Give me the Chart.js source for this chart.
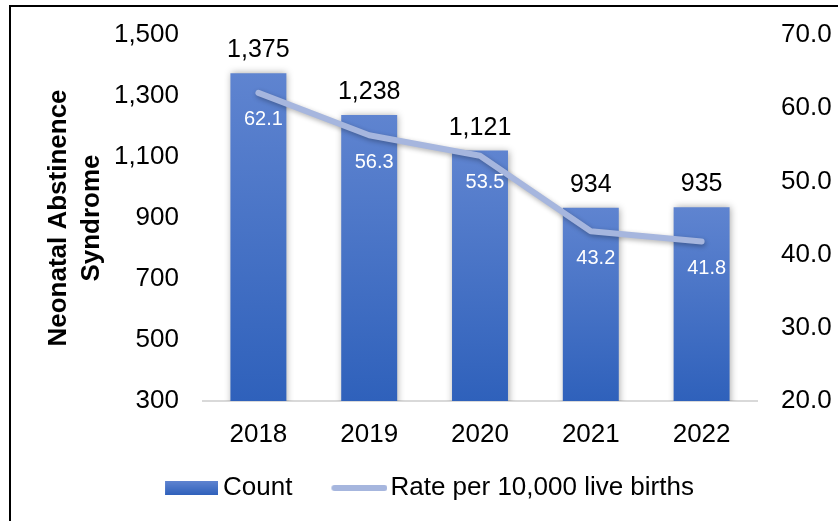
<!DOCTYPE html>
<html>
<head>
<meta charset="utf-8">
<script src="https://cdn.jsdelivr.net/npm/chart.js@4.4.1/dist/chart.umd.min.js"></script>
<style>
  html, body { margin: 0; padding: 0; background: #fff; }
  #wrap { position: relative; width: 838px; height: 521px; overflow: hidden; }
  #c { position: absolute; left: 0; top: 0; }
  #frame { position: absolute; left: 9px; top: 5px; width: 840px; height: 530px;
           border-left: 2px solid #000; border-top: 2px solid #000; pointer-events: none; }
</style>
</head>
<body>
<div id="wrap">
  <canvas id="c" width="838" height="521"></canvas>
  <div id="frame"></div>
</div>
<script>
// ---- data ----
const years = ['2018', '2019', '2020', '2021', '2022'];
const counts = [1375, 1238, 1121, 934, 935];
const rates = [62.1, 56.3, 53.5, 43.2, 41.8];
const countTicks = [300, 500, 700, 900, 1100, 1300, 1500];
const rateTicks = [20, 30, 40, 50, 60, 70];
const countLabel = 'Count';
const rateLabel = 'Rate per 10,000 live births';
const axisTitle = ['Neonatal Abstinence', 'Syndrome'];

// ---- styles ----
const FONT = "'Liberation Sans', Arial, sans-serif";
const BAR_TOP = '#5f84d0';
const BAR_BOT = '#2f61bb';
const BAR_MID = '#4672c6';
const LINE_C = '#a6b6de';
const PSW = 66; // legend symbol slot width

// legend symbols: transparent canvases with the visible swatch right before the text
function boxImage() {
  const c = document.createElement('canvas');
  c.width = 82; c.height = 14;
  const x = c.getContext('2d');
  const g = x.createLinearGradient(0, 0, 0, 14);
  g.addColorStop(0, BAR_TOP); g.addColorStop(1, BAR_BOT);
  x.fillStyle = g; x.fillRect(29, 0, 53, 14);
  return c;
}
function lineImage() {
  const c = document.createElement('canvas');
  c.width = 86; c.height = 8;
  const x = c.getContext('2d');
  x.strokeStyle = LINE_C; x.lineWidth = 6; x.lineCap = 'round';
  x.beginPath(); x.moveTo(33, 4); x.lineTo(83, 4); x.stroke();
  return c;
}
const imgBox = boxImage();
const imgLine = lineImage();

function barGradient(c) {
  const chart = c.chart;
  if (c.type !== 'data' || !chart.chartArea || !chart.scales.y) return BAR_MID;
  const ys = chart.scales.y;
  const top = ys.getPixelForValue(c.parsed ? c.parsed.y : counts[c.dataIndex]);
  const bot = ys.getPixelForValue(ys.min);
  if (!isFinite(top) || !isFinite(bot) || bot <= top) return BAR_MID;
  const g = chart.ctx.createLinearGradient(0, top, 0, bot);
  g.addColorStop(0, BAR_TOP);
  g.addColorStop(1, BAR_BOT);
  return g;
}

const shadowPlugin = {
  id: 'shadow',
  beforeDatasetDraw(chart, args) {
    const ctx = chart.ctx;
    ctx.save();
    if (args.index === 0) {
      ctx.shadowColor = 'rgba(0,0,0,0.35)';
      ctx.shadowBlur = 7;
      ctx.shadowOffsetX = 1;
      ctx.shadowOffsetY = 0;
    } else {
      ctx.shadowColor = 'rgba(0,0,0,0.3)';
      ctx.shadowBlur = 5;
      ctx.shadowOffsetX = 1;
      ctx.shadowOffsetY = 2;
    }
  },
  afterDatasetDraw(chart) { chart.ctx.restore(); }
};

const labelPlugin = {
  id: 'valueLabels',
  afterDatasetsDraw(chart) {
    const ctx = chart.ctx;
    ctx.save();
    ctx.textAlign = 'center';
    ctx.textBaseline = 'alphabetic';
    ctx.fillStyle = '#000';
    ctx.font = '25px ' + FONT;
    chart.getDatasetMeta(0).data.forEach((el, i) => {
      ctx.fillText(counts[i].toLocaleString('en-US'), el.x, el.y - 16);
    });
    ctx.fillStyle = '#fff';
    ctx.font = '20px ' + FONT;
    ctx.textBaseline = 'middle';
    chart.getDatasetMeta(1).data.forEach((pt, i) => {
      ctx.fillText(rates[i].toFixed(1), pt.x + 5, pt.y + 27);
    });
    ctx.restore();
  }
};

function noPad(s) { s.paddingTop = 0; s.paddingBottom = 0; }

new Chart(document.getElementById('c'), {
  data: {
    labels: years,
    datasets: [
      {
        type: 'bar',
        label: countLabel,
        data: counts,
        yAxisID: 'y',
        backgroundColor: barGradient,
        borderWidth: 0,
        categoryPercentage: 0.505,
        barPercentage: 1,
        order: 1
      },
      {
        type: 'line',
        label: rateLabel,
        data: rates,
        yAxisID: 'y1',
        borderColor: LINE_C,
        backgroundColor: LINE_C,
        borderWidth: 6,
        borderCapStyle: 'round',
        borderJoinStyle: 'round',
        pointRadius: 0,
        tension: 0,
        order: 0
      }
    ]
  },
  options: {
    responsive: false,
    animation: false,
    devicePixelRatio: 1,
    layout: { padding: { top: 35, left: 0, right: 0, bottom: 10 } },
    plugins: {
      tooltip: { enabled: false },
      legend: {
        position: 'bottom',
        labels: {
          usePointStyle: true,
          pointStyleWidth: PSW,
          boxHeight: 14,
          padding: 19,
          color: '#000',
          font: { family: FONT, size: 26 },
          generateLabels: () => [
            { text: countLabel, pointStyle: imgBox, rotation: 0, fillStyle: BAR_MID, strokeStyle: BAR_MID, lineWidth: 0, hidden: false, datasetIndex: 0, fontColor: '#000' },
            { text: rateLabel, pointStyle: imgLine, rotation: 0, fillStyle: LINE_C, strokeStyle: LINE_C, lineWidth: 0, hidden: false, datasetIndex: 1, fontColor: '#000' }
          ]
        }
      }
    },
    scales: {
      x: {
        grid: { display: false, drawTicks: false },
        border: { display: true, color: '#d9d9d9', width: 2 },
        ticks: { color: '#000', font: { family: FONT, size: 26 }, padding: 18, maxRotation: 0 },
        afterFit(s) { s.height = 55; s.paddingLeft = 0; s.paddingRight = 0; }
      },
      y: {
        position: 'left',
        min: countTicks[0],
        max: countTicks[countTicks.length - 1],
        afterBuildTicks(s) { s.ticks = countTicks.map(v => ({ value: v })); },
        grid: { display: false, drawTicks: false },
        border: { display: false },
        ticks: {
          color: '#000', font: { family: FONT, size: 26 }, padding: 24,
          callback: v => Number(v).toLocaleString('en-US')
        },
        title: {
          display: true,
          text: axisTitle,
          color: '#000',
          font: { family: FONT, size: 26, weight: 'bold', lineHeight: 1.27 },
          padding: { top: 42, bottom: 0 }
        },
        afterFit(s) { s.width = 203; noPad(s); }
      },
      y1: {
        position: 'right',
        min: rateTicks[0],
        max: rateTicks[rateTicks.length - 1],
        afterBuildTicks(s) { s.ticks = rateTicks.map(v => ({ value: v })); },
        grid: { display: false, drawTicks: false },
        border: { display: false },
        ticks: {
          color: '#000', font: { family: FONT, size: 26 }, padding: 24,
          callback: v => Number(v).toFixed(1)
        },
        afterFit(s) { s.width = 81; noPad(s); }
      }
    }
  },
  plugins: [shadowPlugin, labelPlugin]
});
</script>
</body>
</html>
